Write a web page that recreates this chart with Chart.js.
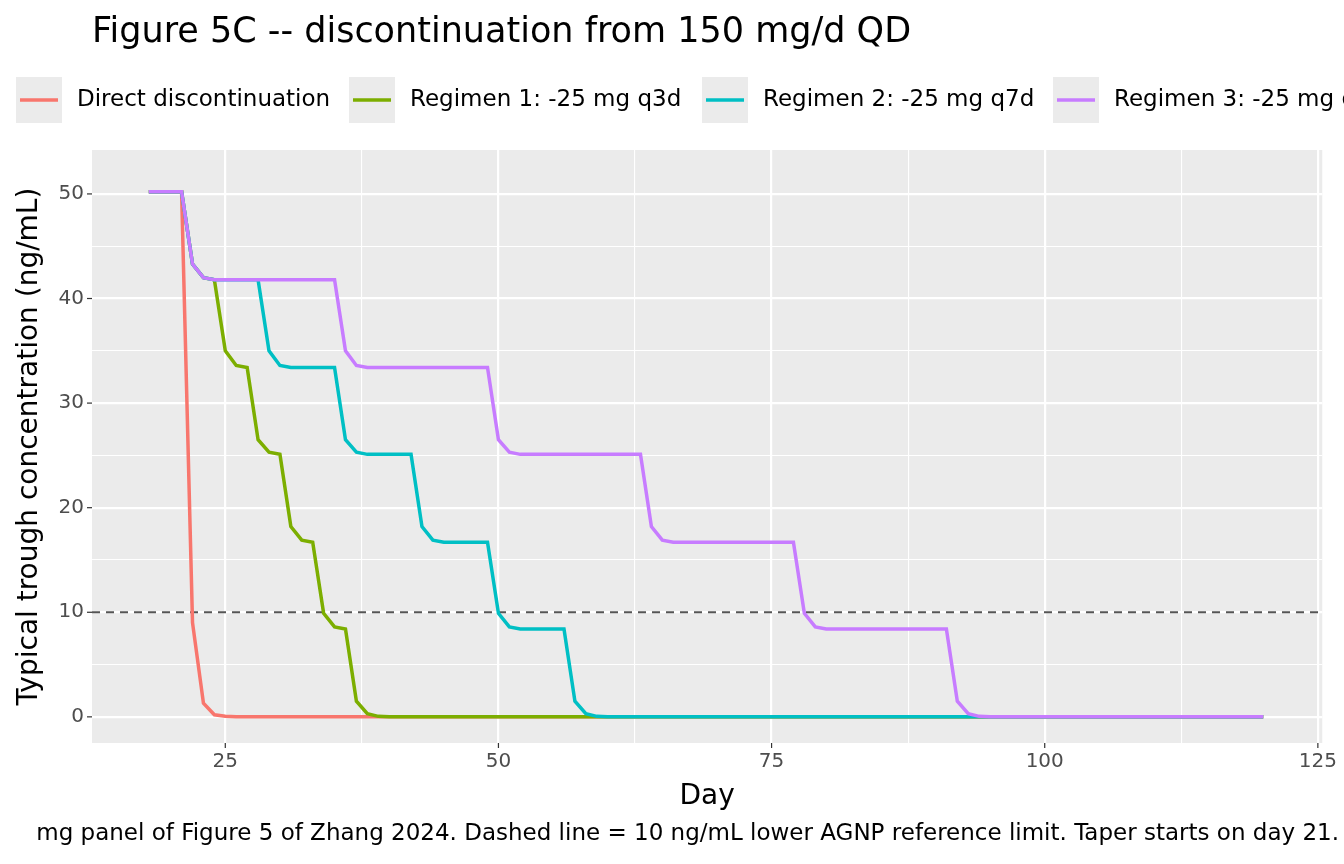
<!DOCTYPE html>
<html><head><meta charset="utf-8">
<script src="https://cdn.jsdelivr.net/npm/chart.js@4/dist/chart.umd.min.js"></script>
<style>html,body{margin:0;padding:0;background:#fff}#wrap{width:1344px;height:864px}</style>
</head><body><div id="wrap"><canvas id="c"></canvas></div>
<script>
// Figure 5C -- tapering from 150 mg/d
const days = [];
for (let d = 18; d <= 120; d++) days.push(d);

// trough levels (ng/mL) read per day, starting at day 18
const directDisc = [50.2,50.2,50.2,50.2, 9,1.3,0.2,0.05];
const regimen1 = [50.2,50.2,50.2,50.2, 43.3,42,41.8, 35,33.6,33.4, 26.5,25.3,25.1, 18.2,16.9,16.7, 9.9,8.6,8.4, 1.5,0.3,0.05];
const regimen2 = [50.2,50.2,50.2,50.2, 43.3,42,41.8,41.8,41.8,41.8,41.8,
  35,33.6,33.4,33.4,33.4,33.4,33.4, 26.5,25.3,25.1,25.1,25.1,25.1,25.1,
  18.2,16.9,16.7,16.7,16.7,16.7,16.7, 9.9,8.6,8.4,8.4,8.4,8.4,8.4, 1.5,0.3,0.05];
const regimen3 = [50.2,50.2,50.2,50.2, 43.3,42,41.8,41.8,41.8,41.8,41.8,41.8,41.8,41.8,41.8,41.8,41.8,41.8,
  35,33.6,33.4,33.4,33.4,33.4,33.4,33.4,33.4,33.4,33.4,33.4,33.4,33.4,
  26.5,25.3,25.1,25.1,25.1,25.1,25.1,25.1,25.1,25.1,25.1,25.1,25.1,25.1,
  18.2,16.9,16.7,16.7,16.7,16.7,16.7,16.7,16.7,16.7,16.7,16.7,16.7,16.7,
  9.9,8.6,8.4,8.4,8.4,8.4,8.4,8.4,8.4,8.4,8.4,8.4,8.4,8.4, 1.5,0.3,0.05];
const seriesNames = ['Direct discontinuation','Regimen 1: -25 mg q3d','Regimen 2: -25 mg q7d','Regimen 3: -25 mg q14d'];
const seriesColors = ['#F8766D','#7CAE00','#00BFC4','#C77CFF'];
const xTicks = [25,37.5,50,62.5,75,87.5,100,112.5,125];
const yTicks = [0,5,10,15,20,25,30,35,40,45,50];
const refLimit = 10;

const pad = arr => days.map((d, i) => ({x: d, y: i < arr.length ? arr[i] : 0}));
const allSeries = [directDisc, regimen1, regimen2, regimen3];

const FONT = '"DejaVu Sans", sans-serif';
const decor = {
  id: 'decor',
  beforeDatasetsDraw(ch) {
    const {ctx, chartArea: a, scales} = ch;
    const y = scales.y.getPixelForValue(refLimit);
    ctx.save();
    ctx.strokeStyle = '#555'; ctx.lineWidth = 1.8; ctx.setLineDash([8, 6]);
    ctx.beginPath(); ctx.moveTo(a.left, y); ctx.lineTo(a.right, y); ctx.stroke();
    ctx.restore();
  },
  beforeDraw(ch) {
    const {ctx, chartArea: a} = ch;
    ctx.save();
    ctx.fillStyle = '#EBEBEB';
    ctx.fillRect(a.left, a.top, a.right - a.left, a.bottom - a.top);
    ctx.restore();
  },
  afterDraw(ch) {
    const {ctx, chartArea: a, scales} = ch;
    ctx.save();
    ctx.strokeStyle = '#333'; ctx.lineWidth = 1.2;
    xTicks.filter(v => v % 25 === 0).forEach(v => {
      const px = scales.x.getPixelForValue(v);
      ctx.beginPath(); ctx.moveTo(px, a.bottom); ctx.lineTo(px, a.bottom + 5); ctx.stroke();
    });
    yTicks.filter(v => v % 10 === 0).forEach(v => {
      const py = scales.y.getPixelForValue(v);
      ctx.beginPath(); ctx.moveTo(a.left - 5, py); ctx.lineTo(a.left, py); ctx.stroke();
    });
    ctx.fillStyle = '#000';
    ctx.font = '35px ' + FONT; ctx.textBaseline = 'alphabetic'; ctx.textAlign = 'left';
    ctx.fillText('Figure 5C -- discontinuation from 150 mg/d QD', 92, 42);
    // legend
    ctx.font = '23px ' + FONT; ctx.textBaseline = 'middle';
    const boxX = [16, 349, 702, 1053];
    seriesNames.forEach((n, i) => {
      ctx.fillStyle = '#EBEBEB'; ctx.fillRect(boxX[i], 77, 46, 46);
      ctx.strokeStyle = seriesColors[i]; ctx.lineWidth = 3.5;
      ctx.beginPath(); ctx.moveTo(boxX[i] + 4, 100); ctx.lineTo(boxX[i] + 42, 100); ctx.stroke();
      ctx.fillStyle = '#000'; ctx.fillText(n, boxX[i] + 61, 100);
    });
    // axis titles
    ctx.font = '28px ' + FONT; ctx.textAlign = 'center';
    ctx.fillText('Day', (a.left + a.right) / 2, 797);
    ctx.save(); ctx.translate(30, (a.top + a.bottom) / 2); ctx.rotate(-Math.PI / 2);
    ctx.fillText('Typical trough concentration (ng/mL)', 0, 0); ctx.restore();
    // caption
    ctx.font = '23px ' + FONT; ctx.textAlign = 'right';
    ctx.fillText('mg panel of Figure 5 of Zhang 2024. Dashed line = 10 ng/mL lower AGNP reference limit. Taper starts on day 21.', 1339, 834);
    ctx.restore();
  }
};

const gridOpts = major => ({
  color: '#fff', drawTicks: false,
  lineWidth: c => (c.tick && major(c.tick.value)) ? 2.2 : 1.1
});

new Chart(document.getElementById('c'), {
  type: 'line',
  data: {
    datasets: allSeries.map((s, i) => ({
      label: seriesNames[i], data: pad(s), borderColor: seriesColors[i], order: 4 - i,
      borderWidth: 3.5, pointRadius: 0, tension: 0, fill: false
    }))
  },
  options: {
    responsive: true, maintainAspectRatio: false, animation: false,
    layout: {padding: {top: 150, right: 14, left: 0, bottom: 0}},
    plugins: {legend: {display: false}, tooltip: {enabled: false}},
    scales: {
      x: {
        type: 'linear', min: 12.8, max: 125.4,
        afterBuildTicks: s => { s.ticks = xTicks.map(v => ({value: v})); },
        afterFit: s => { s.height = 121; },
        grid: gridOpts(v => v % 25 === 0), border: {display: false},
        ticks: {autoSkip: false, maxRotation: 0, padding: 7, color: '#4D4D4D',
          font: {family: FONT, size: 20}, callback: v => v % 25 === 0 ? v : ''}
      },
      y: {
        type: 'linear', min: -2.5, max: 54.2,
        afterBuildTicks: s => { s.ticks = yTicks.map(v => ({value: v})); },
        afterFit: s => { s.width = 92; },
        grid: gridOpts(v => v % 10 === 0), border: {display: false},
        ticks: {autoSkip: false, padding: 8, color: '#4D4D4D',
          font: {family: FONT, size: 20}, callback: v => v % 10 === 0 ? v : ''}
      }
    }
  },
  plugins: [decor]
});
</script></body></html>
